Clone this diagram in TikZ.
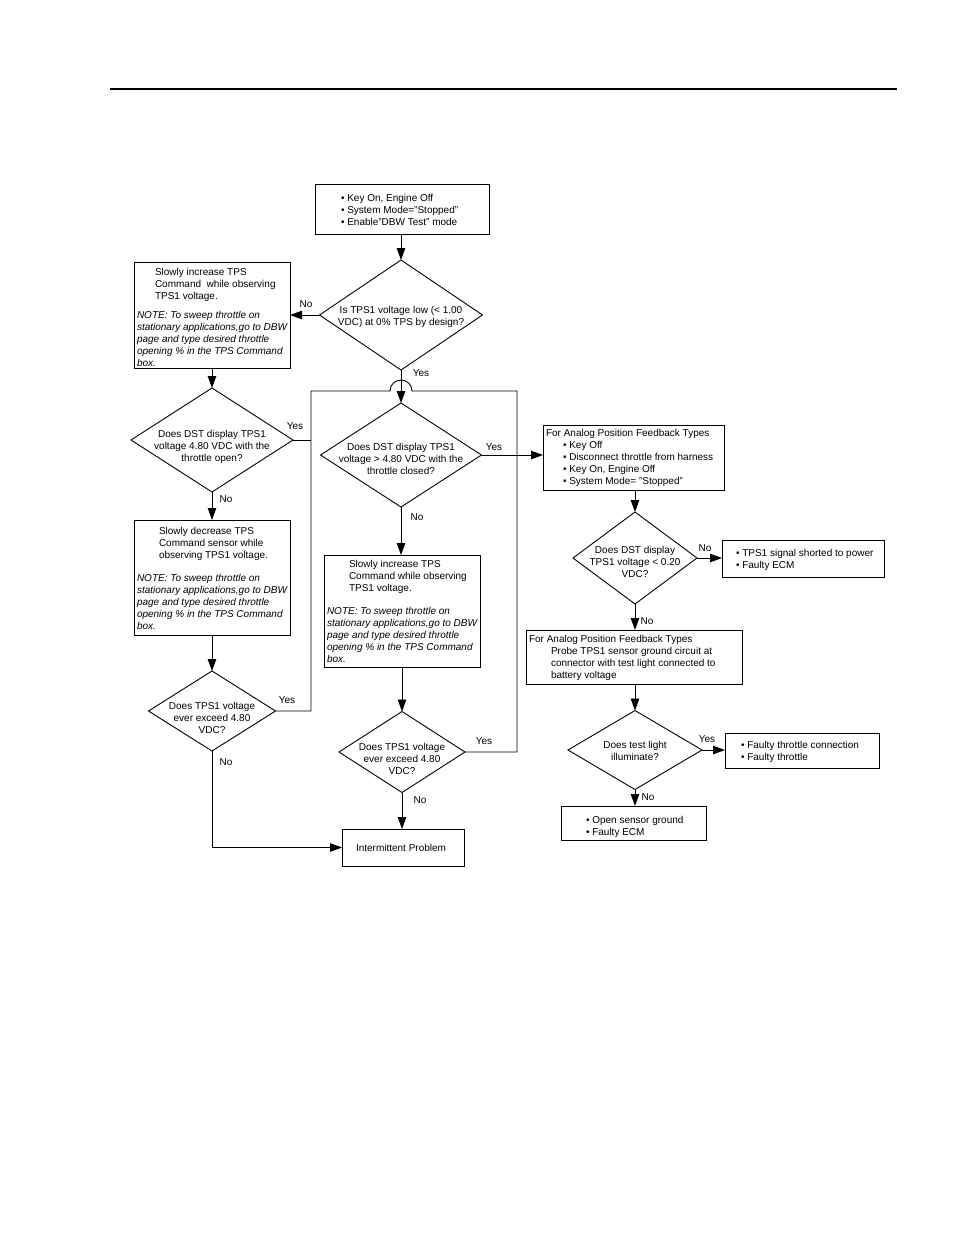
\documentclass[tikz,border=0pt]{standalone}
\usepackage{fontspec}
\setmainfont{Liberation Sans}
\usetikzlibrary{shapes.geometric,arrows.meta}
\newcommand{\bxtab}[4]{\makebox[#1][l]{\hspace*{#2}\raisebox{-#3}[\height][\depth]{\begin{tabular}{@{}l@{}}#4\end{tabular}}}}
\newcommand{\ntl}{\itshape}
\begin{document}
\begin{tikzpicture}[x=1pt,y=-1pt,
  every node/.style={font=\fontsize{10}{12}\selectfont, inner sep=0pt, outer sep=0pt},
  bx/.style={draw, line width=0.9pt, rectangle},
  dm/.style={draw, line width=0.9pt, diamond},
  arr/.style={line width=0.9pt, -{Triangle[length=12pt,width=8.5pt]}},
  ln/.style={line width=0.9pt}]
\fill[white] (0,0) rectangle (954,1235);
\useasboundingbox (0,0) rectangle (954,1235);
\draw[line width=1.3pt] (110,89) -- (897,89);

% boxes
\node[bx, minimum width=174pt, minimum height=50pt] (B0) at (402,209)
  {\bxtab{174pt}{26pt}{2pt}{• Key On, Engine Off\\ • System Mode=”Stopped”\\ • Enable”DBW Test” mode}};
\node[bx, minimum width=156pt, minimum height=106pt] (L1) at (212,315)
  {\bxtab{156pt}{3pt}{3.5pt}{\hspace*{18pt}Slowly increase TPS\\ \hspace*{18pt}Command\ \ while observing\\ \hspace*{18pt}TPS1 voltage.\\[7pt] \ntl NOTE: To sweep throttle on\\ \ntl stationary applications,go to DBW\\ \ntl page and type desired throttle\\ \ntl opening \% in the TPS Command\\ \ntl box.}};
\node[bx, minimum width=156pt, minimum height=115pt] (L2) at (212,577.5)
  {\bxtab{156pt}{3pt}{2pt}{\hspace*{22pt}Slowly decrease TPS\\ \hspace*{22pt}Command sensor while\\ \hspace*{22pt}observing TPS1 voltage.\\[11pt] \ntl NOTE: To sweep throttle on\\ \ntl stationary applications,go to DBW\\ \ntl page and type desired throttle\\ \ntl opening \% in the TPS Command\\ \ntl box.}};
\node[bx, minimum width=156pt, minimum height=112pt] (M1) at (402,611)
  {\bxtab{156pt}{3pt}{2pt}{\hspace*{22pt}Slowly increase TPS\\ \hspace*{22pt}Command while observing\\ \hspace*{22pt}TPS1 voltage.\\[11pt] \ntl NOTE: To sweep throttle on\\ \ntl stationary applications,go to DBW\\ \ntl page and type desired throttle\\ \ntl opening \% in the TPS Command\\ \ntl box.}};
\node[bx, minimum width=122pt, minimum height=37pt] (IP) at (403,847.5)
  {\bxtab{122pt}{14pt}{2pt}{Intermittent Problem}};
\node[bx, minimum width=181pt, minimum height=65pt] (R1) at (633.5,457.5)
  {\bxtab{181pt}{3pt}{1pt}{For Analog Position Feedback Types\\ \hspace*{17pt}• Key Off\\ \hspace*{17pt}• Disconnect throttle from harness\\ \hspace*{17pt}• Key On, Engine Off\\ \hspace*{17pt}• System Mode= "Stopped"}};
\node[bx, minimum width=162pt, minimum height=37pt] (R2) at (803,558.5)
  {\bxtab{162pt}{14pt}{2pt}{• TPS1 signal shorted to power\\ • Faulty ECM}};
\node[bx, minimum width=216pt, minimum height=54pt] (R3) at (634,657)
  {\bxtab{216pt}{3pt}{1pt}{For Analog Position Feedback Types\\ \hspace*{22pt}Probe TPS1 sensor ground circuit at\\ \hspace*{22pt}connector with test light connected to\\ \hspace*{22pt}battery voltage}};
\node[bx, minimum width=154pt, minimum height=35pt] (R4) at (802,750.5)
  {\bxtab{154pt}{16pt}{2pt}{• Faulty throttle connection\\ • Faulty throttle}};
\node[bx, minimum width=145pt, minimum height=34pt] (R5) at (633.5,823)
  {\bxtab{145pt}{25pt}{4pt}{• Open sensor ground\\ • Faulty ECM}};

% diamonds
\node[dm, minimum width=163pt, minimum height=110pt] (D1) at (401,315) {};
\node[align=center] (D1t) at (401,317) {Is TPS1 voltage low (< 1.00\\VDC) at 0\% TPS by design?};
\node[dm, minimum width=162pt, minimum height=104pt] (D2) at (212,440) {};
\node[align=center] (D2t) at (212,447) {Does DST display TPS1\\voltage 4.80 VDC with the\\throttle open?};
\node[dm, minimum width=161pt, minimum height=104pt] (D3) at (401,455) {};
\node[align=center] (D3t) at (401,459) {Does DST display TPS1\\voltage > 4.80 VDC with the\\throttle closed?};
\node[dm, minimum width=127pt, minimum height=80pt] (D4) at (212,711) {};
\node[align=center] (D4t) at (212,718) {Does TPS1 voltage\\ever exceed 4.80\\VDC?};
\node[dm, minimum width=126pt, minimum height=81pt] (D5) at (402,752) {};
\node[align=center] (D5t) at (402,759) {Does TPS1 voltage\\ever exceed 4.80\\VDC?};
\node[dm, minimum width=124pt, minimum height=92pt] (D6) at (635,558) {};
\node[align=center] (D6t) at (635,562) {Does DST display\\TPS1 voltage < 0.20\\VDC?};
\node[dm, minimum width=134pt, minimum height=79pt] (D7) at (635,750) {};
\node[align=center] (D7t) at (635,751) {Does test light\\illuminate?};

% loop coordinates
\coordinate (lpTL) at (311,391);
\coordinate (lpTR) at (517,391);
\coordinate (hopL) at (390,391);

% connectors
\draw[arr] (B0.south -| D1.north) -- (D1.north);
\draw[arr] (D1.west) -- (D1.west -| L1.east);
\draw[arr] (D1.south) -- (D3.north);
\draw[arr] (L1.south) -- (D2.north);
\draw[ln] (D2.east) -- (D2.east -| lpTL);
\draw[arr] (D2.south) -- (L2.north);
\draw[arr] (L2.south) -- (D4.north);
\draw[arr] (D4.south) |- (IP.west);
\draw[ln] (D4.east) -- (D4.east -| lpTL) -- (lpTL) -- (hopL)
  arc[start angle=180, end angle=0, radius=11pt] -- (lpTR) -- (lpTR |- D5.east) -- (D5.east);
\draw[arr] (D3.east) -- (D3.east -| R1.west);
\draw[arr] (D3.south) -- (D3.south |- M1.north);
\draw[arr] (M1.south -| D5.north) -- (D5.north);
\draw[arr] (D5.south) -- (D5.south |- IP.north);
\draw[arr] (R1.south -| D6.north) -- (D6.north);
\draw[arr] (D6.east) -- (D6.east -| R2.west);
\draw[arr] (D6.south) -- (D6.south |- R3.north);
\draw[arr] (R3.south -| D7.north) -- (D7.north);
\draw[arr] (D7.east) -- (D7.east -| R4.west);
\draw[arr] (D7.south) -- (D7.south |- R5.north);

% labels
\node (n1) at (306,304) {No};
\node (y1) at (421,373) {Yes};
\node (y2) at (295,426) {Yes};
\node (n2) at (226,499) {No};
\node (y3) at (494,447) {Yes};
\node (n3) at (417,517) {No};
\node (y4) at (287,700) {Yes};
\node (n4) at (226,762) {No};
\node (y5) at (484,741) {Yes};
\node (n5) at (420,800) {No};
\node (n6) at (705,548) {No};
\node (n7) at (647,621) {No};
\node (y7) at (707,739) {Yes};
\node (n8) at (648,797) {No};
\end{tikzpicture}
\end{document}
